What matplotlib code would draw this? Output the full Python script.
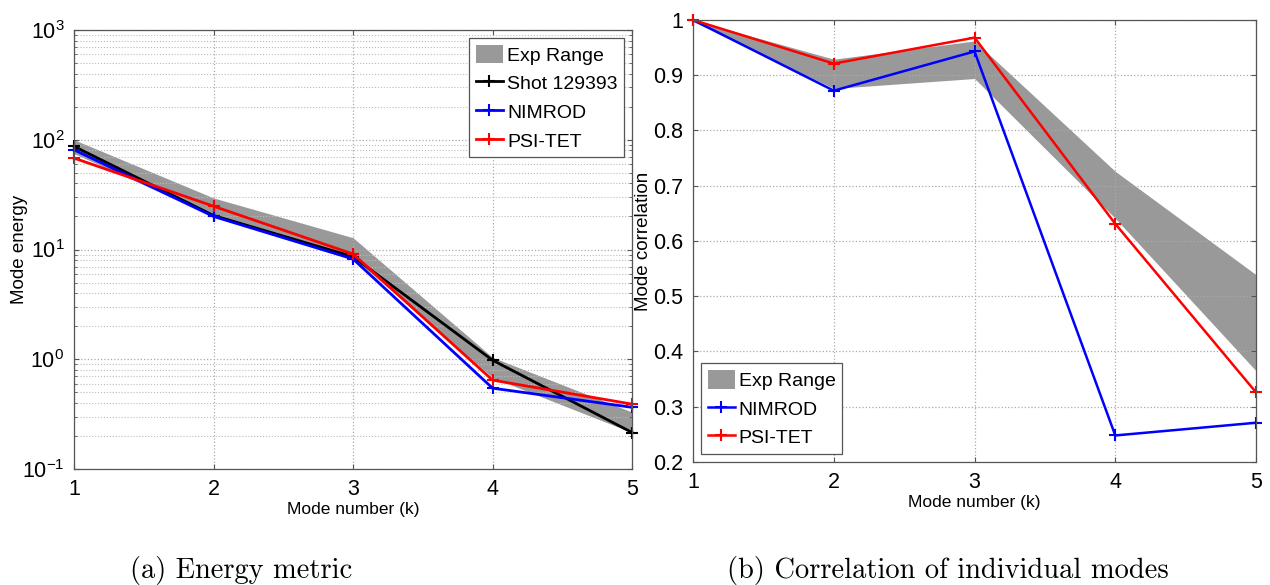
import numpy as np
import matplotlib.pyplot as plt

plt.rcParams['font.family'] = ['Liberation Sans', 'DejaVu Sans']

modes = [1, 2, 3, 4, 5]

# energy metric (a)
exp_e_lo = [75.0, 20.0, 8.4, 0.68, 0.215]
exp_e_hi = [100.0, 29.5, 12.8, 1.04, 0.33]
shot_e = [87.0, 20.4, 8.6, 0.98, 0.215]
nimrod_e = [81.0, 20.0, 8.2, 0.545, 0.365]
psitet_e = [68.0, 24.8, 9.1, 0.645, 0.39]

# correlation (b)
exp_c_lo = [0.997, 0.876, 0.894, 0.641, 0.365]
exp_c_hi = [1.0, 0.929, 0.962, 0.726, 0.539]
nimrod_c = [1.0, 0.872, 0.943, 0.248, 0.271]
psitet_c = [1.0, 0.921, 0.968, 0.631, 0.326]

grey = '#999999'
spine = '#555555'

fig = plt.figure(figsize=(12.7, 5.85), dpi=100)
ax1 = fig.add_axes([0.0583, 0.1983, 0.4394, 0.7504])
ax2 = fig.add_axes([0.5457, 0.2103, 0.4433, 0.7556])

def style(ax):
	for s in ax.spines.values():
		s.set_color(spine)
		s.set_linewidth(0.9)
	ax.tick_params(direction='in', which='both', top=True, right=True, colors=spine, labelcolor='black', labelsize=15.5, pad=7)
	ax.grid(True, which='major', linestyle=':', color='#aaaaaa', linewidth=0.9)
	ax.set_xlim(1, 5)
	ax.set_xticks(modes)
	ax.set_xlabel('Mode number (k)', fontsize=12.5, labelpad=2)

def legend(ax, loc):
	leg = ax.legend(loc=loc, fontsize=14, fancybox=False, framealpha=1, edgecolor=spine,
		handlelength=1.4, handleheight=1.1, handletextpad=0.2, borderaxespad=0.4,
		labelspacing=0.45, borderpad=0.35)
	leg.get_frame().set_linewidth(0.9)
	return leg

kw = dict(marker='+', ms=8, mew=1.5, clip_on=False)

# (a)
ax1.fill_between(modes, exp_e_lo, exp_e_hi, color=grey, linewidth=0, label='Exp Range')
ax1.plot(modes, shot_e, color='black', lw=2, label='Shot 129393', **kw)
ax1.plot(modes, nimrod_e, color='blue', lw=2, label='NIMROD', **kw)
ax1.plot(modes, psitet_e, color='red', lw=2, label='PSI-TET', **kw)
ax1.set_yscale('log')
ax1.set_ylim(0.1, 1000)
style(ax1)
ax1.grid(True, which='minor', axis='y', linestyle=':', color='#bbbbbb', linewidth=0.8)
ax1.set_ylabel('Mode energy', fontsize=13.5)
ax1.yaxis.set_label_coords(-0.082, 0.5)
legend(ax1, 'upper right')

# (b)
ax2.fill_between(modes, exp_c_lo, exp_c_hi, color=grey, linewidth=0, label='Exp Range')
ax2.plot(modes, nimrod_c, color='blue', lw=1.8, label='NIMROD', **kw)
ax2.plot(modes, psitet_c, color='red', lw=1.8, label='PSI-TET', **kw)
ax2.set_ylim(0.2, 1.0)
ax2.set_yticks([0.2, 0.3, 0.4, 0.5, 0.6, 0.7, 0.8, 0.9, 1.0])
ax2.set_yticklabels(['0.2', '0.3', '0.4', '0.5', '0.6', '0.7', '0.8', '0.9', '1'])
style(ax2)
ax2.set_ylabel('Mode correlation', fontsize=13.5)
ax2.yaxis.set_label_coords(-0.073, 0.5)
leg = legend(ax2, 'lower left')
for p in leg.get_patches():
	p.set_edgecolor('#555555')

fig.text(0.19, 0.0256, '(a) Energy metric', family='cmr10', fontsize=20.5, ha='center', va='center')
fig.text(0.7465, 0.0256, '(b) Correlation of individual modes', family='cmr10', fontsize=20.5, ha='center', va='center')

plt.savefig('out.png', dpi=100)
